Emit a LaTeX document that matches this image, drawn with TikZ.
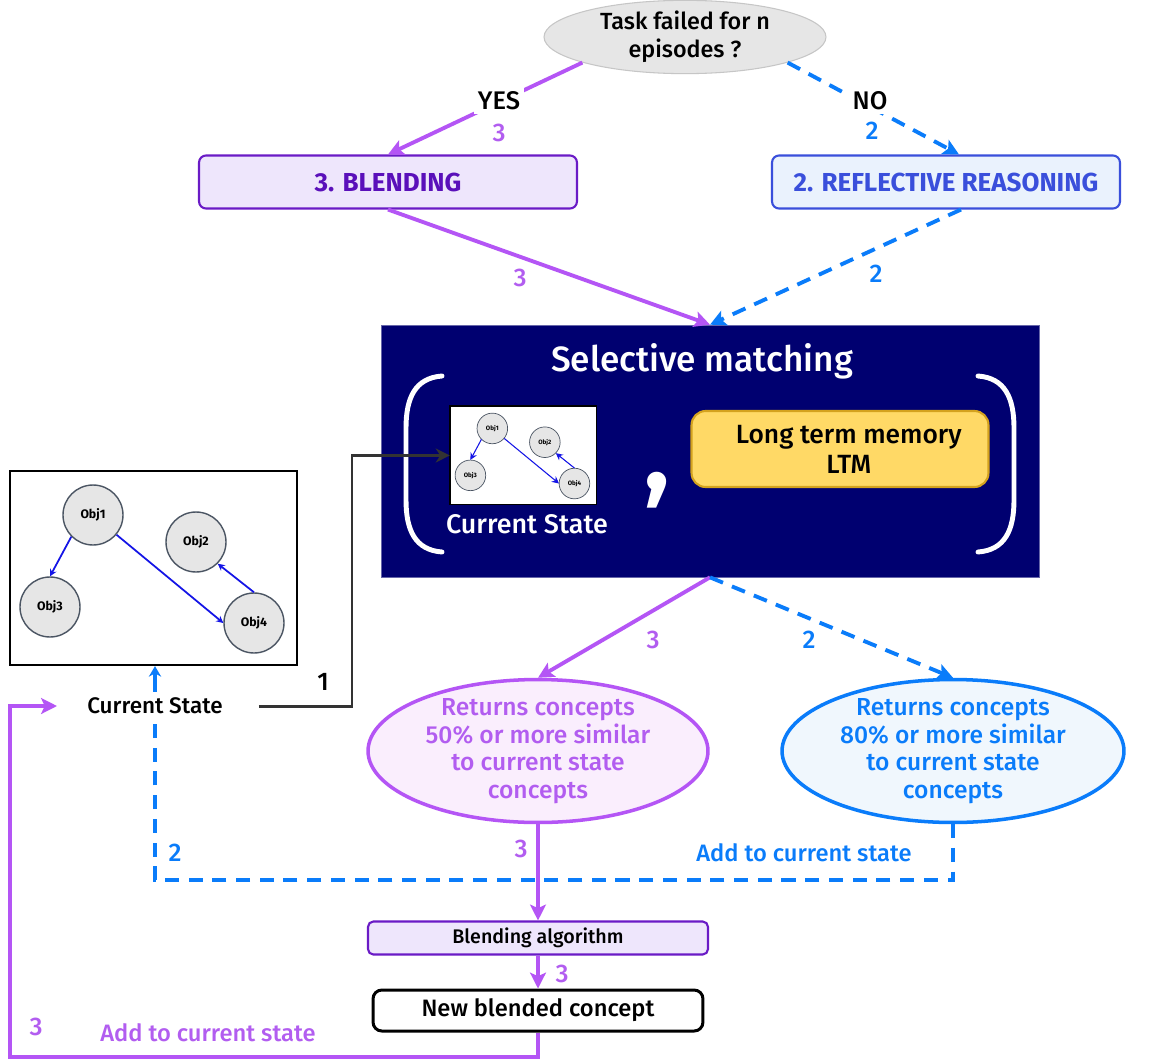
\documentclass[tikz,border=0pt]{standalone}
\usepackage{fontspec}
\IfFontExistsTF{Fira Sans Medium}
  {\setmainfont{Fira Sans}[UprightFont=* Medium,BoldFont=* Bold]}
  {\setmainfont{Fira Sans}}
\usetikzlibrary{positioning}
\usetikzlibrary{shapes.geometric}
\usetikzlibrary{arrows.meta}
\usetikzlibrary{calc}

\definecolor{pline}{HTML}{B455F5}
\definecolor{ptext}{HTML}{B25DF0}
\definecolor{bline}{HTML}{0A7CFA}
\definecolor{navy}{HTML}{000070}
\definecolor{pdark}{HTML}{6A1BC6}
\definecolor{pbold}{HTML}{5A10BA}
\definecolor{pfill}{HTML}{EEE6FC}
\definecolor{rblue}{HTML}{3A4FDB}
\definecolor{rfill}{HTML}{EAF2FD}
\definecolor{gold}{HTML}{FFD966}
\definecolor{golddark}{HTML}{D4A21E}
\definecolor{objgray}{HTML}{E6E6E6}
\definecolor{objedge}{HTML}{4B5563}
\definecolor{pell}{HTML}{FAEEFD}
\definecolor{bell}{HTML}{F0F7FD}
\definecolor{objblue}{HTML}{1414E6}

\tikzset{
  tip/.style={-{Stealth[length=9pt,width=9pt,inset=2pt]}},
  parrow/.style={draw=pline, line width=2.2pt, tip},
  barrow/.style={draw=bline, line width=2.2pt, dash pattern=on 8pt off 5.5pt, tip},
  decision/.style={ellipse, fill=objgray, draw=gray!45, line width=0.6pt,
    minimum width=5.64cm, minimum height=1.32cm, inner sep=0pt, align=center,
    font=\fontsize{13.3}{16}\selectfont},
  stagebox/.style={rounded corners=4pt, line width=1.2pt, minimum height=1.06cm,
    font=\fontsize{14.8}{17}\bfseries},
  concept/.style={ellipse, line width=2pt, minimum width=6.8cm, minimum height=2.86cm,
    inner xsep=0pt, inner ysep=-2pt, align=center, font=\fontsize{14}{15.7}\selectfont},
  lbl/.style={inner sep=2pt, font=\fontsize{14.5}{17}\selectfont},
  paren/.style={draw=white, line width=2.8pt, line cap=round},
  mapbox/.style={draw=black, fill=white, line width=1.3pt, minimum width=5.74cm,
    minimum height=3.88cm, inner sep=0pt},
  obj/.style={circle, fill=objgray, draw=objedge, line width=0.8pt, minimum size=1.2cm,
    inner sep=0pt, font=\fontsize{7}{8}\bfseries},
  objarrow/.style={draw=objblue, line width=1pt, -{Stealth[length=4pt,width=4pt]}},
  statemap/.pic={
    \node[mapbox] (-box) at (143.5,97) {};
    \node[obj] (-o1) at (83,44)   {Obj1};
    \node[obj] (-o2) at (186,71)  {Obj2};
    \node[obj] (-o3) at (40,136)  {Obj3};
    \node[obj] (-o4) at (244,152) {Obj4};
    \draw[objarrow] (-o1.-135) -- (-o3.north);
    \draw[objarrow] (-o1.-40)  -- (-o4.west);
    \draw[objarrow] (-o4.north) -- (-o2.-45);
  }
}

\begin{document}
\begin{tikzpicture}[x=0.02cm, y=-0.02cm]
  \path[fill=white, use as bounding box] (0,0) rectangle (1149,1061);

  % question
  \node[decision] (q) at (685,37) {Task failed for n\\episodes ?};

  % the two branches
  \node[stagebox, fill=pfill, draw=pdark, text=pbold, minimum width=7.56cm]
    (blend) at (388,182) {3. BLENDING};
  \node[stagebox, fill=rfill, draw=rblue, text=rblue, minimum width=6.96cm]
    (refl) at (946,182) {2. REFLECTIVE REASONING};

  % selective matching
  \node[fill=navy, draw=navy!60!white, line width=0.4pt, minimum width=13.16cm,
    minimum height=5.04cm, inner sep=0pt] (sel) at (710,451) {};
  \node[text=white, font=\fontsize{20}{24}\selectfont] (seltitle) at (702,361)
    {Selective matching};
  \draw[paren] (442,376) .. controls (415,378) and (406,398) .. (406,428)
    -- (406,500) .. controls (406,530) and (415,550) .. (442,552);
  \draw[paren] (978,376) .. controls (1005,378) and (1014,398) .. (1014,428)
    -- (1014,500) .. controls (1014,530) and (1005,550) .. (978,552);
  \pic[scale=0.51, transform shape, mapbox/.append style={line width=0.6pt},
       obj/.append style={line width=0.4pt},
       objarrow/.append style={line width=0.6pt}] (ss) at (450,406) {statemap};
  \node[text=white, font=\fontsize{15.3}{18}\selectfont] (sslabel) at (527,524)
    {Current State};
  \node[text=white, font=\fontsize{60}{60}\bfseries] (comma) at (657,490) {,};
  \node[fill=gold, draw=golddark, line width=1.2pt, rounded corners=8pt,
    minimum width=5.94cm, minimum height=1.52cm, align=center,
    font=\fontsize{15}{17}\selectfont] (ltm) at (840,449)
    {\hspace{10pt}Long term memory\\\hspace{10pt}LTM};

  % current state on the left
  \pic (ls) at (10,471) {statemap};
  \node[font=\fontsize{12.8}{15}\selectfont] (cs) at (155,706) {Current State};

  % returned concepts
  \node[concept, fill=pell, draw=pline, text=ptext] (pret) at (538,751)
    {Returns concepts\\50\% or more similar\\to current state\\concepts};
  \node[concept, fill=bell, draw=bline, text=bline, minimum width=6.84cm]
    (bret) at (953,751)
    {Returns concepts\\80\% or more similar\\to current state\\concepts};

  % blending
  \node[fill=pfill, draw=pdark, line width=1.2pt, rounded corners=3pt,
    minimum width=6.8cm, minimum height=0.66cm,
    font=\fontsize{11.2}{13}\selectfont] (balg) at (538,938) {Blending algorithm};
  \node[fill=white, draw=black, line width=1.7pt, rounded corners=5pt,
    minimum width=6.6cm, minimum height=0.82cm,
    font=\fontsize{13.5}{15}\selectfont] (newc) at (538,1010.5)
    {New blended concept};

  \coordinate (kturn) at (352,706);
  \coordinate (cin) at (57,706);

  % connectors
  \draw[parrow] (q.-166) -- (blend.north);
  \draw[barrow] (q.-14) -- ([xshift=0.26cm]refl.north);
  \draw[parrow] (blend.south) -- (sel.north);
  \draw[barrow] ([xshift=0.3cm]refl.south) -- (sel.north);
  \draw[parrow] (sel.south) -- (pret.north);
  \draw[barrow] (sel.south) -- (bret.north);
  \draw[parrow] (pret.south) -- (balg.north);
  \draw[parrow] (balg.south) -- (newc.north);
  \draw[draw=pline, line width=2.2pt, tip] (newc.south) |- (10,1057) |- (cin);
  \draw[draw=bline, line width=2.2pt, dash pattern=on 8pt off 5.5pt]
    (bret.south) -- ++(0,56) -| (cs.south);
  \draw[draw=bline, line width=1.8pt, -{Stealth[length=6pt,width=7pt]}]
    (cs.north) -- (cs.north |- ls-box.south);
  \draw[draw=black!80, line width=1.7pt, -{Stealth[length=8pt,width=8pt]}]
    ([xshift=0.6cm]cs.east) -- (kturn) |- (ss-box.west);

  % labels
  \node[lbl, fill=white] (lyes) at (499,101) {YES};
  \node[lbl, fill=white] (lno) at (870,101) {NO};
  \node[lbl, text=ptext] (n3a) at (499,133) {3};
  \node[lbl, text=bline] (n2a) at (872,131) {2};
  \node[lbl, text=ptext] (n3b) at (520,278) {3};
  \node[lbl, text=bline] (n2b) at (876,274) {2};
  \node[lbl] (n1) at (323,682) {1};
  \node[lbl, text=ptext] (n3c) at (653,640) {3};
  \node[lbl, text=bline] (n2c) at (809,640) {2};
  \node[lbl, text=ptext] (n3d) at (521,849) {3};
  \node[lbl, text=bline] (n2d) at (175,853) {2};
  \node[lbl, text=bline, font=\fontsize{13.5}{15}\selectfont] (addb) at (804,853)
    {Add to current state};
  \node[lbl, text=ptext] (n3e) at (562,974) {3};
  \node[lbl, text=ptext] (n3f) at (36,1027) {3};
  \node[lbl, text=ptext, font=\fontsize{13.5}{15}\selectfont] (addp) at (208,1033)
    {Add to current state};
\end{tikzpicture}
\end{document}
